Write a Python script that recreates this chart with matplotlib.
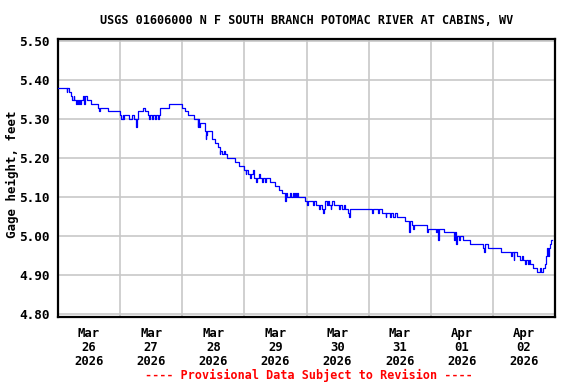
import matplotlib
matplotlib.use("Agg")
import matplotlib.pyplot as plt

# ---- data: hours since 2026-03-26 00:00, gage height (ft), step readings ----
hours = [0, 3.3, 3.6, 4.2, 5.0, 5.6, 6.0, 6.3, 6.8, 7.2, 7.6, 8.2, 8.6, 9.0, 9.6, 10.2, 10.5,
         11.2, 12.8, 14.3, 15.5, 15.8, 16.1, 19.3, 24.0, 24.3, 25.0, 25.3, 25.6,
         27.5, 28.5, 29.5, 30.3, 30.6, 30.9, 33.0, 33.6, 34.9, 35.1, 35.4, 36.5, 36.8,
         37.6, 37.9, 38.6, 39.0, 39.4, 43.0, 48.0, 49.0, 50.3, 52.7, 53.9, 54.2,
         54.3, 54.6, 54.9, 56.6, 57.0, 57.3, 57.7, 59.5, 60.5, 61.8, 62.4, 62.7,
         63.5, 64.0, 64.6, 65.3, 68.4, 70.0, 71.8, 72.5, 72.8, 73.4, 74.3, 74.6,
         75.5, 75.8, 76.5, 76.8, 77.5, 78.0, 78.8, 79.1, 79.8,
         80.3, 81.8, 83.8, 85.3, 86.6, 87.6, 87.9, 88.5, 89.7, 90.0, 90.6, 91.0,
         91.5, 91.8, 92.4, 92.7, 95.5, 96.2, 96.5, 98.6, 98.9, 99.6, 100.8, 101.1,
         101.8, 102.3, 102.6, 103.2, 103.8, 104.3, 104.8, 105.3, 105.6, 106.0, 106.5,
         108.5, 109.0, 109.8, 110.3, 110.8, 112.2, 112.5, 112.8, 121.2, 121.5,
         123.7, 124.2, 125.3, 126.6, 126.9, 127.2, 128.3, 128.8, 129.5, 130.0, 131.0,
         134.1, 135.7, 136.0, 136.7, 137.2, 137.5, 142.5, 142.8, 146.0, 146.3, 146.8,
         147.1, 149.0, 153.0, 153.3, 153.8, 154.1, 155.0, 155.3, 156.5, 159.2,
         164.3, 164.6, 164.9, 166.2, 171.0, 175.0, 175.3, 176.0, 176.3, 177.3, 178.5,
         179.3, 179.6, 180.5, 180.8, 181.6, 181.9, 182.4, 183.5, 185.1, 186.3, 186.6,
         187.4, 188.0, 188.6, 189.0, 189.3, 189.6, 190.0, 190.5, 190.9]
values = [5.38, 5.37, 5.38, 5.37, 5.36, 5.35, 5.36, 5.35, 5.34, 5.35, 5.34, 5.35, 5.34, 5.35, 5.36, 5.34, 5.36,
          5.35, 5.34, 5.34, 5.33, 5.32, 5.33, 5.32, 5.31, 5.30, 5.31, 5.30, 5.31,
          5.30, 5.31, 5.30, 5.28, 5.30, 5.32, 5.33, 5.32, 5.31, 5.30, 5.31, 5.30, 5.31,
          5.30, 5.31, 5.30, 5.31, 5.33, 5.34, 5.33, 5.32, 5.31, 5.30, 5.28, 5.30,
          5.29, 5.28, 5.29, 5.27, 5.25, 5.26, 5.27, 5.25, 5.24, 5.23, 5.21, 5.22,
          5.21, 5.22, 5.21, 5.20, 5.19, 5.18, 5.17, 5.16, 5.17, 5.16, 5.15, 5.16,
          5.17, 5.15, 5.14, 5.15, 5.16, 5.15, 5.14, 5.15, 5.14,
          5.15, 5.14, 5.13, 5.12, 5.11, 5.09, 5.11, 5.10, 5.11, 5.10, 5.11, 5.10,
          5.11, 5.10, 5.11, 5.10, 5.09, 5.08, 5.09, 5.08, 5.09, 5.08, 5.07, 5.08,
          5.07, 5.06, 5.07, 5.09, 5.08, 5.09, 5.08, 5.07, 5.08, 5.09, 5.08,
          5.07, 5.08, 5.07, 5.08, 5.07, 5.06, 5.05, 5.07, 5.06, 5.07,
          5.06, 5.07, 5.06, 5.05, 5.06, 5.06, 5.05, 5.06, 5.05, 5.06, 5.05,
          5.04, 5.01, 5.04, 5.03, 5.02, 5.03, 5.01, 5.02, 5.01, 5.02, 4.99,
          5.02, 5.01, 4.99, 5.01, 4.98, 5.00, 4.99, 5.00, 4.99, 4.98,
          4.97, 4.96, 4.98, 4.97, 4.96, 4.95, 4.96, 4.94, 4.96, 4.95, 4.94,
          4.95, 4.94, 4.93, 4.94, 4.93, 4.94, 4.93, 4.92, 4.91, 4.92, 4.91,
          4.92, 4.93, 4.95, 4.97, 4.95, 4.97, 4.98, 4.99, 4.99]

day_labels = ["Mar\n26\n2026", "Mar\n27\n2026", "Mar\n28\n2026", "Mar\n29\n2026",
              "Mar\n30\n2026", "Mar\n31\n2026", "Apr\n01\n2026", "Apr\n02\n2026"]
y_ticks = [4.80, 4.90, 5.00, 5.10, 5.20, 5.30, 5.40, 5.50]

title = "USGS 01606000 N F SOUTH BRANCH POTOMAC RIVER AT CABINS, WV"
ylabel = "Gage height, feet"
footer = "---- Provisional Data Subject to Revision ----"

FONT = "DejaVu Sans Mono"

fig = plt.figure(figsize=(5.76, 3.84), dpi=100)
ax = fig.add_axes([58/576, 1-317/384, (555-58)/576, (317-39)/384])

ax.step(hours, values, where="post", color="#0000ff", lw=0.9, zorder=3)

ax.set_xlim(0, 24*len(day_labels))
ax.set_ylim(4.7935, 5.5057)

ax.set_xticks([24*i for i in range(1, len(day_labels))])
ax.set_xticklabels([])
ax.set_xticks([24*i + 12 for i in range(len(day_labels))], minor=True)
ax.set_xticklabels(day_labels, minor=True, fontfamily=FONT, fontweight="bold", fontsize=8.8,
                   linespacing=1.12)
ax.set_yticks(y_ticks)
ax.set_yticklabels([f"{v:.2f}" for v in y_ticks], fontfamily=FONT, fontweight="bold", fontsize=9.2)
ax.tick_params(axis="both", which="both", length=0)
ax.tick_params(axis="x", which="minor", pad=7)
ax.tick_params(axis="y", pad=6)

ax.grid(True, which="major", color="#c8c8c8", lw=1.2)
ax.set_axisbelow(True)
for s in ax.spines.values():
    s.set_linewidth(1.6)
    s.set_color("black")

fig.text(307/576, 1-20/384, title, ha="center", va="center", fontfamily=FONT,
         fontweight="bold", fontsize=8.5)
fig.text(12/576, 1-174/384, ylabel, ha="center", va="center", rotation=90,
         fontfamily=FONT, fontweight="bold", fontsize=9.0)
fig.text(309/576, 1-375/384, footer, ha="center", va="center", fontfamily=FONT,
         fontweight="bold", fontsize=8.5, color="#ff0000")

fig.savefig("out.png", dpi=100)
